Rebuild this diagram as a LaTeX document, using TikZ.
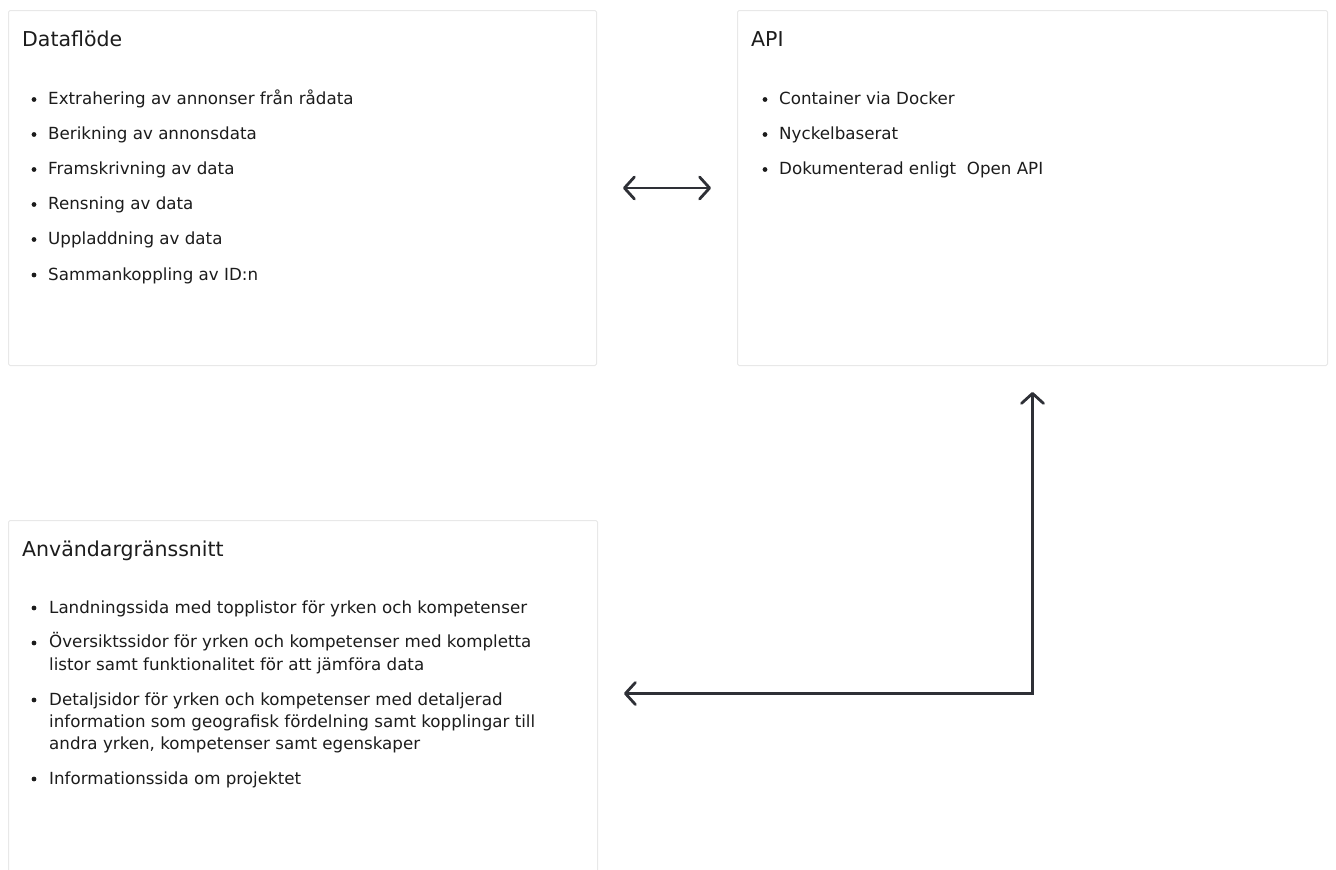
\documentclass[tikz,border=0pt]{standalone}
\usepackage{fontspec}
\setmainfont{DejaVu Sans}
\usetikzlibrary{arrows.meta}
\definecolor{ink}{HTML}{2E3036}
\definecolor{edge}{HTML}{E8E8E8}
\definecolor{txt}{HTML}{1C1C1C}

\begin{document}
\begin{tikzpicture}[x=1pt, y=-1pt,
	box/.style={draw=edge, fill=white, line width=1pt, rounded corners=1.5pt, anchor=north west, inner sep=0pt},
	hd/.style={anchor=base west, inner sep=0pt, font=\fontsize{20.5}{24}\selectfont, text=txt},
	itm/.style={anchor=base west, inner sep=0pt, align=left, font=\fontsize{16.7}{22.2}\selectfont, text=txt},
	s/.style={fill=txt, circle, inner sep=1.7pt},
	link/.style={draw=ink, line width=2.8pt, {Straight Barb[length=10pt,width=22pt,round]}-{Straight Barb[length=10pt,width=22pt,round]}, shorten <=26pt, shorten >=26pt}]
	\useasboundingbox (0,0) rectangle (1336,870);
	\clip (0,0) rectangle (1336,870);
	% the three panels
	\node[box, minimum width=588pt, minimum height=355pt] (df) at (8,10) {};
	\node[box, minimum width=590pt, minimum height=355pt] (api) at (737,10) {};
	\node[box, minimum width=589pt, minimum height=355pt] (ui) at (8,520) {};
	% Dataflöde
	\node[hd] (dfh) at (22,46) {Dataflöde};
	\foreach \y/\t [count=\i] in {104.5/Extrahering av annonser från rådata, 139.5/Berikning av annonsdata,
		174.5/Framskrivning av data, 209.5/Rensning av data, 244.5/Uppladdning av data, 280/Sammankoppling av ID:n}{
		\node[s] (dfb\i) at (34,\y-5) {};
		\node[itm] (dft\i) at (48,\y) {\t};
	}
	% API
	\node[hd] (apih) at (751,46) {API};
	\foreach \y/\t [count=\i] in {104.5/Container via Docker, 139.5/Nyckelbaserat, 174.5/Dokumenterad enligt\ \ Open API}{
		\node[s] (apib\i) at (765,\y-5) {};
		\node[itm] (apit\i) at (779,\y) {\t};
	}
	% Användargränssnitt (multi-line items sit on their last baseline)
	\node[hd] (uih) at (22,556) {Användargränssnitt};
	\node[s] (uib1) at (34,608) {};
	\node[itm] (uit1) at (49,613) {Landningssida med topplistor för yrken och kompetenser};
	\node[s] (uib2) at (34,643) {};
	\node[itm] (uit2) at (49,670) {Översiktssidor för yrken och kompetenser med kompletta\\listor samt funktionalitet för att jämföra data};
	\node[s] (uib3) at (34,700) {};
	\node[itm] (uit3) at (49,749.4) {Detaljsidor för yrken och kompetenser med detaljerad\\information som geografisk fördelning samt kopplingar till\\andra yrken, kompetenser samt egenskaper};
	\node[s] (uib4) at (34,779) {};
	\node[itm] (uit4) at (49,784) {Informationssida om projektet};
	% connectors
	\draw[link] (df.east) -- (api.west);
	\draw[link] (api.south) |- ([yshift=4.5pt]ui.east);
\end{tikzpicture}
\end{document}
